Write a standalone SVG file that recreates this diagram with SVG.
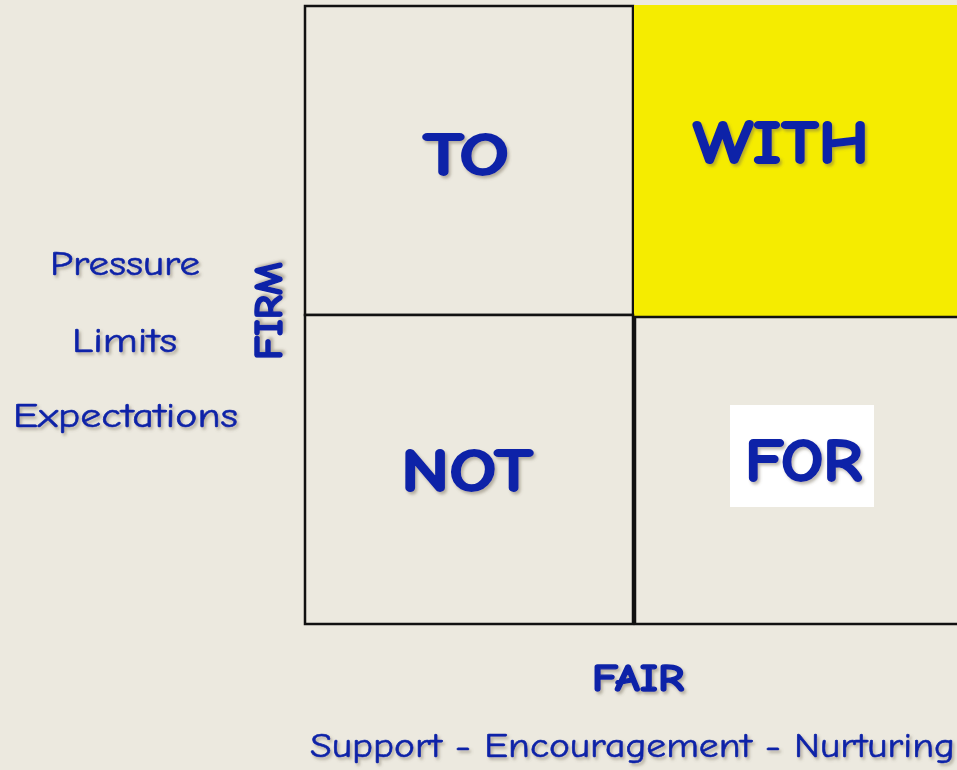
<svg xmlns="http://www.w3.org/2000/svg" width="957" height="770" viewBox="0 0 957 770">
  <defs>
    <filter id="shadow" x="-10%" y="-20%" width="130%" height="150%">
      <feDropShadow dx="2" dy="2.5" stdDeviation="1.6" flood-color="#6b6350" flood-opacity="0.45"/>
    </filter>
    <style>
      .bg { fill: #ECE9DF; }
      .cell { fill: #ECE9DF; stroke: #111; stroke-width: 2.5; }
      .hl { fill: #F5EC00; }
      .word { font-family: "Comic Sans MS", "Comic Neue", "DejaVu Sans", sans-serif; fill: #0A24A8; stroke: #0A24A8; stroke-linejoin: round; filter: url(#shadow); }
      .big { font-size: 60px; font-weight: bold; stroke-width: 2; }
      .axis { font-size: 40px; font-weight: bold; stroke-width: 1.4; }
      .label { font-size: 34px; stroke-width: 0.6; }
    </style>
  </defs>

  <rect class="bg" x="0" y="0" width="957" height="770"/>

  <!-- quadrant: TO (firm, not fair) -->
  <g id="to">
    <rect class="cell" x="305" y="6" width="328" height="309"/>
    <text class="word big" x="423" y="175" textLength="86" lengthAdjust="spacingAndGlyphs">TO</text>
  </g>

  <!-- quadrant: WITH (firm and fair) -->
  <g id="with">
    <rect class="hl" x="634" y="5" width="330" height="312"/>
    <text class="word big" x="693" y="163" textLength="176" lengthAdjust="spacingAndGlyphs">WITH</text>
  </g>

  <!-- quadrant: NOT -->
  <g id="not">
    <rect class="cell" x="305" y="315" width="328" height="309"/>
    <text class="word big" x="401" y="491" textLength="132" lengthAdjust="spacingAndGlyphs">NOT</text>
  </g>

  <!-- quadrant: FOR -->
  <g id="for">
    <rect class="cell" x="635" y="317" width="330" height="307"/>
    <rect x="730" y="405" width="144" height="102" fill="#fff"/>
    <text class="word big" x="745" y="481" textLength="117" lengthAdjust="spacingAndGlyphs">FOR</text>
  </g>

  <!-- vertical axis -->
  <g id="firm-axis">
    <text class="word axis" transform="translate(282 360) rotate(-90)" x="0" y="0" textLength="98" lengthAdjust="spacingAndGlyphs">FIRM</text>
    <text class="word label" x="50" y="275" textLength="150" lengthAdjust="spacingAndGlyphs">Pressure</text>
    <text class="word label" x="72" y="352" textLength="105" lengthAdjust="spacingAndGlyphs">Limits</text>
    <text class="word label" x="13" y="427" textLength="225" lengthAdjust="spacingAndGlyphs">Expectations</text>
  </g>

  <!-- horizontal axis -->
  <g id="fair-axis">
    <text class="word axis" style="font-size:38px" x="592" y="691" textLength="92" lengthAdjust="spacingAndGlyphs">FAIR</text>
    <text class="word label" x="310" y="757" textLength="645" lengthAdjust="spacingAndGlyphs">Support - Encouragement - Nurturing</text>
  </g>

  <g id="connectors"/>
</svg>
